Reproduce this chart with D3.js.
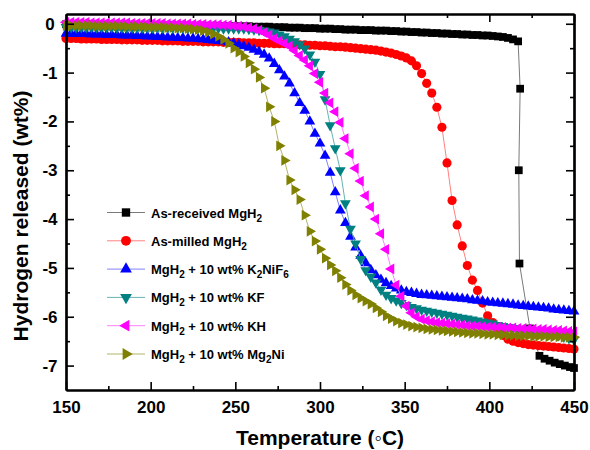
<!DOCTYPE html>
<html><head><meta charset="utf-8">
<script src="https://d3js.org/d3.v7.min.js"></script>
<style>
body { margin: 0; background: #fff; }
text { font-family: "Liberation Sans", Arial, sans-serif; font-weight: bold; fill: #000; }
</style>
</head>
<body>
<svg id="chart" width="590" height="450"></svg>
<script>

// temperature grid (degC), one reading every 3 degC
const temps = [150,153,156,159,162,165,168,171,174,177,180,183,186,189,192,195,198,
  201,204,207,210,213,216,219,222,225,228,231,234,237,240,243,246,249,
  252,255,258,261,264,267,270,273,276,279,282,285,288,291,294,297,
  300,303,306,309,312,315,318,321,324,327,330,333,336,339,342,345,348,
  351,354,357,360,363,366,369,372,375,378,381,384,387,390,393,396,399,
  402,405,408,411,414,417,420,423,426,429,432,435,438,441,444,447,450];

// as-received sample: same grid up to 417, then the sudden drop
const tempsReceived = temps.slice(0, 90).concat([418.2,417.4,417.8,424,429.6,432.6,435.6,438.6,441.6,444.6,447.6,450]);

const wtReceived = [-0.01,-0.01,-0.01,-0.01,-0.01,-0.01,-0.02,-0.02,-0.02,-0.02,-0.02,-0.02,-0.02,-0.02,-0.02,-0.03,-0.03,
  -0.03,-0.03,-0.03,-0.03,-0.03,-0.03,-0.03,-0.04,-0.04,-0.04,-0.04,-0.04,-0.04,-0.04,-0.05,-0.05,-0.05,
  -0.05,-0.05,-0.05,-0.06,-0.06,-0.06,-0.06,-0.07,-0.07,-0.07,-0.08,-0.08,-0.08,-0.09,-0.09,-0.09,
  -0.10,-0.10,-0.10,-0.11,-0.11,-0.12,-0.12,-0.12,-0.13,-0.13,-0.13,-0.14,-0.14,-0.14,-0.15,-0.15,-0.16,
  -0.16,-0.17,-0.17,-0.18,-0.18,-0.19,-0.19,-0.20,-0.20,-0.21,-0.21,-0.22,-0.22,-0.23,-0.23,-0.24,-0.24,
  -0.25,-0.26,-0.27,-0.29,-0.32,-0.36,
  -1.33,-3.00,-4.91,-6.24,-6.80,-6.86,-6.90,-6.94,-6.97,-7.00,-7.03,-7.05];

const wtMilled = [-0.30,-0.30,-0.30,-0.31,-0.31,-0.31,-0.31,-0.32,-0.32,-0.32,-0.32,-0.33,-0.33,-0.33,-0.33,-0.34,-0.34,
  -0.34,-0.34,-0.35,-0.35,-0.35,-0.35,-0.36,-0.36,-0.36,-0.36,-0.37,-0.37,-0.37,-0.37,-0.38,-0.38,-0.38,
  -0.38,-0.39,-0.39,-0.39,-0.40,-0.40,-0.40,-0.41,-0.41,-0.41,-0.42,-0.42,-0.43,-0.43,-0.44,-0.44,
  -0.45,-0.45,-0.46,-0.47,-0.47,-0.48,-0.49,-0.50,-0.51,-0.52,-0.53,-0.54,-0.56,-0.58,-0.60,-0.63,-0.66,
  -0.70,-0.76,-0.86,-1.02,-1.22,-1.42,-1.71,-2.12,-2.85,-3.62,-4.12,-4.55,-4.95,-5.25,-5.46,-5.72,-5.98,
  -6.12,-6.26,-6.38,-6.46,-6.50,-6.53,-6.55,-6.57,-6.58,-6.59,-6.60,-6.61,-6.62,-6.63,-6.64,-6.65,-6.66];

const wtK2NiF6 = [-0.20,-0.20,-0.21,-0.21,-0.21,-0.22,-0.22,-0.22,-0.23,-0.23,-0.23,-0.24,-0.24,-0.24,-0.25,-0.25,-0.26,
  -0.26,-0.27,-0.27,-0.28,-0.28,-0.29,-0.29,-0.30,-0.30,-0.31,-0.32,-0.33,-0.34,-0.35,-0.36,-0.38,-0.40,
  -0.43,-0.46,-0.49,-0.53,-0.57,-0.63,-0.71,-0.82,-0.95,-1.08,-1.22,-1.42,-1.62,-1.78,-2.00,-2.25,
  -2.45,-2.70,-3.05,-3.45,-3.82,-4.08,-4.36,-4.58,-4.75,-4.90,-5.04,-5.15,-5.24,-5.31,-5.37,-5.42,-5.46,
  -5.49,-5.51,-5.53,-5.55,-5.56,-5.57,-5.58,-5.59,-5.60,-5.61,-5.62,-5.63,-5.64,-5.66,-5.67,-5.68,-5.70,
  -5.71,-5.72,-5.73,-5.74,-5.75,-5.77,-5.78,-5.79,-5.80,-5.81,-5.82,-5.83,-5.85,-5.86,-5.87,-5.88,-5.89];

const wtKF = [-0.07,-0.07,-0.07,-0.07,-0.07,-0.07,-0.07,-0.07,-0.07,-0.07,-0.08,-0.08,-0.08,-0.08,-0.08,-0.08,-0.08,
  -0.08,-0.08,-0.08,-0.08,-0.08,-0.08,-0.08,-0.09,-0.09,-0.09,-0.09,-0.09,-0.09,-0.09,-0.10,-0.10,-0.10,
  -0.10,-0.10,-0.11,-0.12,-0.13,-0.14,-0.16,-0.18,-0.22,-0.26,-0.31,-0.36,-0.42,-0.51,-0.63,-0.78,
  -1.03,-1.55,-2.08,-2.55,-3.00,-3.68,-4.20,-4.50,-4.82,-5.05,-5.18,-5.30,-5.45,-5.55,-5.62,-5.67,-5.72,
  -5.76,-5.80,-5.83,-5.86,-5.88,-5.90,-5.92,-5.94,-5.96,-5.98,-6.00,-6.02,-6.04,-6.06,-6.08,-6.10,-6.12,
  -6.14,-6.17,-6.19,-6.21,-6.23,-6.25,-6.26,-6.27,-6.28,-6.30,-6.32,-6.34,-6.36,-6.38,-6.41,-6.44,-6.47];

const wtKH = [0.03,0.03,0.03,0.03,0.03,0.02,0.02,0.02,0.02,0.02,0.02,0.02,0.02,0.01,0.01,0.01,0.01,
  0.01,0.01,0.01,0.00,0.00,0.00,0.00,0.00,-0.01,-0.01,-0.01,-0.02,-0.02,-0.02,-0.03,-0.03,-0.04,
  -0.05,-0.06,-0.08,-0.10,-0.13,-0.18,-0.23,-0.30,-0.35,-0.40,-0.46,-0.55,-0.65,-0.74,-0.86,-1.02,
  -1.20,-1.42,-1.62,-1.80,-2.02,-2.35,-2.66,-2.96,-3.22,-3.52,-3.75,-4.00,-4.30,-4.62,-5.02,-5.35,-5.58,
  -5.78,-5.92,-6.00,-6.05,-6.08,-6.10,-6.12,-6.13,-6.14,-6.15,-6.16,-6.17,-6.18,-6.19,-6.19,-6.20,-6.21,
  -6.21,-6.22,-6.22,-6.23,-6.23,-6.24,-6.24,-6.25,-6.25,-6.26,-6.26,-6.27,-6.28,-6.28,-6.29,-6.30,-6.31];

const wtMg2Ni = [-0.04,-0.04,-0.04,-0.04,-0.04,-0.04,-0.05,-0.05,-0.05,-0.05,-0.05,-0.05,-0.06,-0.06,-0.06,-0.06,-0.07,
  -0.07,-0.07,-0.07,-0.08,-0.08,-0.09,-0.09,-0.10,-0.11,-0.12,-0.14,-0.17,-0.21,-0.26,-0.32,-0.40,-0.50,
  -0.58,-0.67,-0.80,-0.93,-1.10,-1.32,-1.70,-2.00,-2.50,-2.80,-3.20,-3.40,-3.60,-3.92,-4.25,-4.45,
  -4.62,-4.80,-4.94,-5.06,-5.20,-5.34,-5.46,-5.55,-5.62,-5.68,-5.74,-5.82,-5.90,-5.98,-6.04,-6.09,-6.13,
  -6.16,-6.19,-6.21,-6.23,-6.25,-6.26,-6.27,-6.28,-6.29,-6.30,-6.31,-6.32,-6.33,-6.34,-6.34,-6.35,-6.36,
  -6.36,-6.37,-6.37,-6.38,-6.38,-6.39,-6.39,-6.39,-6.40,-6.40,-6.40,-6.41,-6.41,-6.41,-6.42,-6.42,-6.42];

const xTicks = [150,200,250,300,350,400,450];
const xMinor = [175,225,275,325,375,425];
const yTicks = [0,-1,-2,-3,-4,-5,-6,-7];
const yMinor = [-0.5,-1.5,-2.5,-3.5,-4.5,-5.5,-6.5];

// "_2" means subscript 2
const names = ["As-received MgH_2", "As-milled MgH_2", "MgH_2 + 10 wt% K_2NiF_6",
               "MgH_2 + 10 wt% KF", "MgH_2 + 10 wt% KH", "MgH_2 + 10 wt% Mg_2Ni"];

const series = [
  {t: tempsReceived, v: wtReceived, fill: "#000000", line: "#7a7a7a", sym: d3.symbolSquare,   rot: 0,   size: 60},
  {t: temps, v: wtMilled,  fill: "#ff0000", line: "#ff8080", sym: d3.symbolCircle,   rot: 0,   size: 66},
  {t: temps, v: wtK2NiF6,  fill: "#0000ff", line: "#8080ff", sym: d3.symbolTriangle, rot: 0,   size: 50},
  {t: temps, v: wtKF,      fill: "#008080", line: "#66b3b3", sym: d3.symbolTriangle, rot: 180, size: 50},
  {t: temps, v: wtKH,      fill: "#ff00ff", line: "#ff80ff", sym: d3.symbolTriangle, rot: -90, size: 50},
  {t: temps, v: wtMg2Ni,   fill: "#808000", line: "#b3b366", sym: d3.symbolTriangle, rot: 90,  size: 50}
];

let svg = d3.select("#chart");
let L = 66, R = 574, T = 14, B = 390;

let x = d3.scaleLinear().domain([150, 450]).range([L, R]);
let y = d3.scaleLinear().domain([-7.5, 0.2]).range([B, T]);

// lines then markers, in legend order
let line = d3.line().x(d => x(d[0])).y(d => y(d[1]));
series.forEach(s => {
  let pts = s.t.map((t, i) => [t, s.v[i]]);
  svg.append("path")
    .attr("d", line(pts))
    .attr("fill", "none")
    .attr("stroke", s.line)
    .attr("stroke-width", 1);
  svg.append("g").selectAll("path")
    .data(pts)
    .join("path")
    .attr("d", d3.symbol().type(s.sym).size(s.size))
    .attr("transform", d => `translate(${x(d[0])},${y(d[1])}) rotate(${s.rot})`)
    .attr("fill", s.fill);
});

// axes, ticks pointing inward
function styleAxis(g) {
  g.select(".domain").attr("stroke", "#000").attr("stroke-width", 2.2);
  g.selectAll(".tick line").attr("stroke", "#000").attr("stroke-width", 1.6);
}

svg.append("g").attr("transform", `translate(0,${B})`)
  .call(d3.axisBottom(x).tickValues(xTicks).tickSize(-8).tickSizeOuter(0).tickPadding(11).tickFormat(d => d))
  .call(styleAxis)
  .selectAll("text").style("font-size", "17px");
svg.append("g").attr("transform", `translate(0,${B})`)
  .call(d3.axisBottom(x).tickValues(xMinor).tickSize(-4).tickSizeOuter(0).tickFormat(""))
  .call(styleAxis);

svg.append("g").attr("transform", `translate(0,${T})`)
  .call(d3.axisTop(x).tickValues(xTicks).tickSize(-8).tickSizeOuter(0).tickFormat(""))
  .call(styleAxis);
svg.append("g").attr("transform", `translate(0,${T})`)
  .call(d3.axisTop(x).tickValues(xMinor).tickSize(-4).tickSizeOuter(0).tickFormat(""))
  .call(styleAxis);

svg.append("g").attr("transform", `translate(${L},0)`)
  .call(d3.axisLeft(y).tickValues(yTicks).tickSize(-8).tickSizeOuter(0).tickFormat(d => String(d)))
  .call(styleAxis)
  .selectAll("text")
    .attr("x", -16)
    .attr("text-anchor", "middle")
    .style("font-size", "17px");
svg.append("g").attr("transform", `translate(${L},0)`)
  .call(d3.axisLeft(y).tickValues(yMinor).tickSize(-4).tickSizeOuter(0).tickFormat(""))
  .call(styleAxis);

svg.append("g").attr("transform", `translate(${R},0)`)
  .call(d3.axisRight(y).tickValues(yTicks).tickSize(-8).tickSizeOuter(0).tickFormat(""))
  .call(styleAxis);
svg.append("g").attr("transform", `translate(${R},0)`)
  .call(d3.axisRight(y).tickValues(yMinor).tickSize(-4).tickSizeOuter(0).tickFormat(""))
  .call(styleAxis);

svg.selectAll(".tick text").attr("font-family", null).attr("font-size", null);

// axis titles
svg.append("text")
  .attr("x", (L + R) / 2)
  .attr("y", 445)
  .attr("text-anchor", "middle")
  .style("font-size", "21px")
  .text("Temperature (\u25E6C)");

svg.append("text")
  .attr("transform", "translate(28,216) rotate(-90)")
  .attr("text-anchor", "middle")
  .style("font-size", "21px")
  .text("Hydrogen released (wt%)");

// legend
let legend = svg.append("g");
series.forEach((s, i) => {
  let ry = 212.5 + i * 28.3;
  legend.append("line")
    .attr("x1", 107).attr("x2", 145)
    .attr("y1", ry).attr("y2", ry)
    .attr("stroke", s.line).attr("stroke-width", 1);
  legend.append("path")
    .attr("d", d3.symbol().type(s.sym).size(s.size + 10))
    .attr("transform", `translate(126,${ry}) rotate(${s.rot})`)
    .attr("fill", s.fill);
  let txt = legend.append("text")
    .attr("x", 151).attr("y", ry + 5)
    .style("font-size", "13px");
  names[i].split(/_(\d)/).forEach((part, j) => {
    if (part === "") return;
    let ts = txt.append("tspan").text(part);
    if (j % 2 === 1) ts.attr("dy", 4).style("font-size", "10px");
    else if (j > 0) ts.attr("dy", -4);
  });
});

</script>
</body>
</html>
